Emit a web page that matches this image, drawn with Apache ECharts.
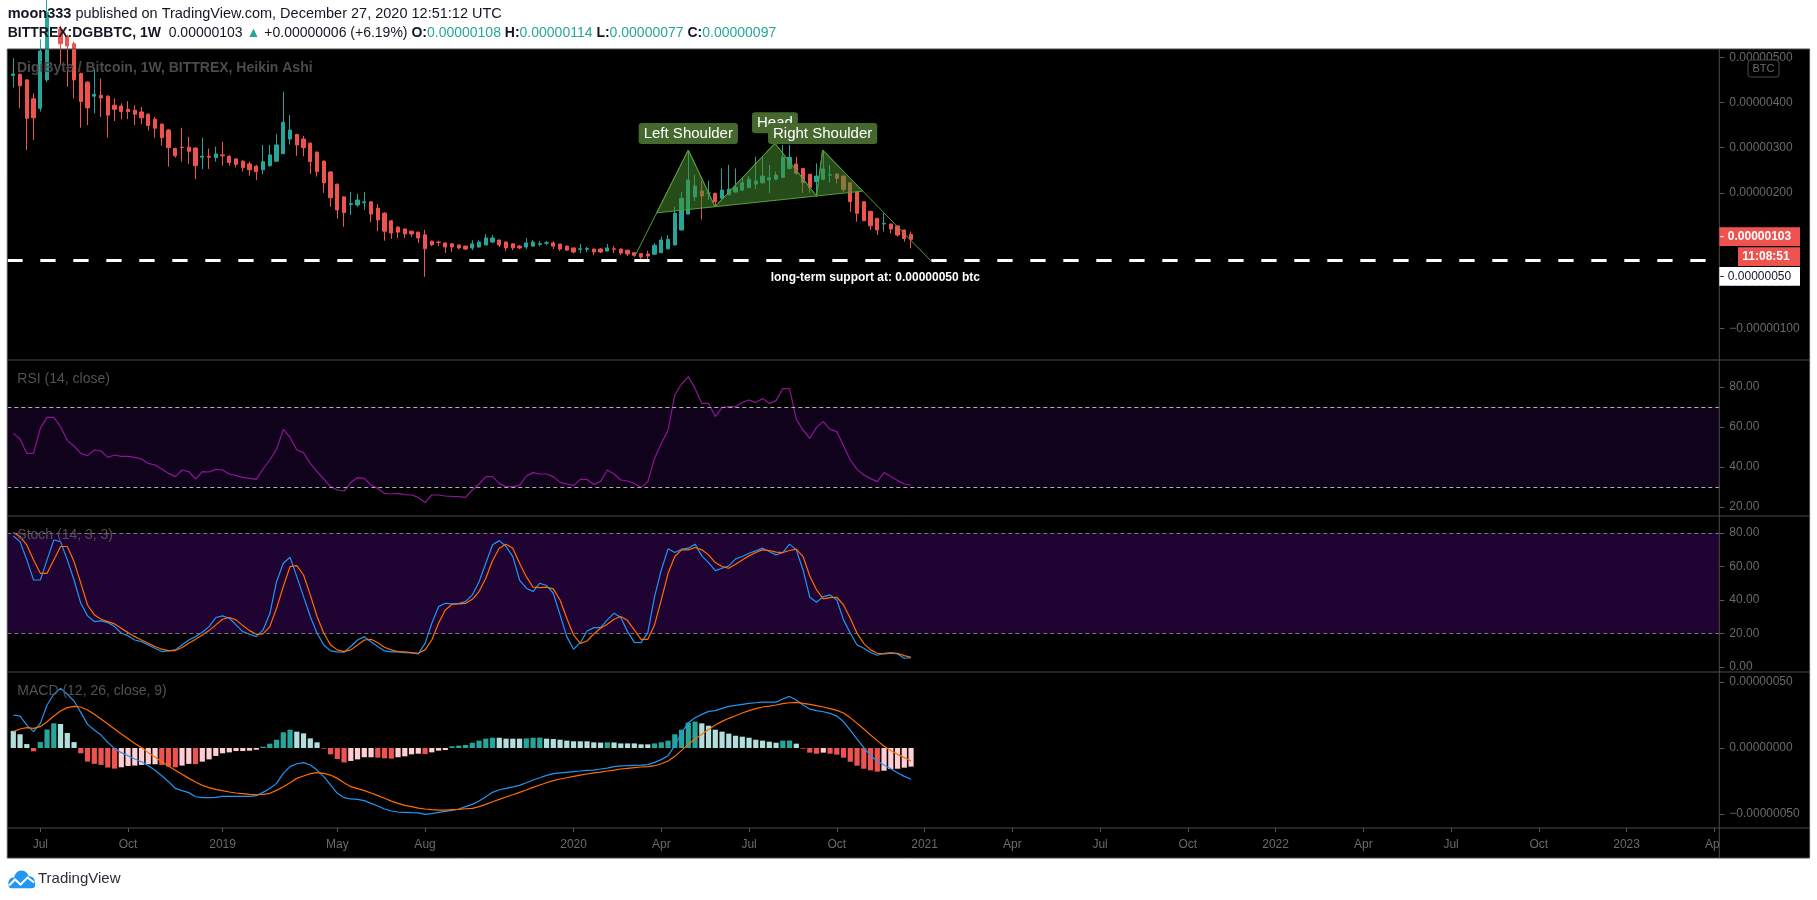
<!DOCTYPE html>
<html><head><meta charset="utf-8">
<script src="https://cdn.jsdelivr.net/npm/echarts@6/dist/echarts.min.js"></script>
<style>html,body{margin:0;padding:0;background:#fff;}#c{width:1817px;height:900px;}</style>
</head><body><div id="c"></div>
<script>
// ---------- DATA (prices in satoshi = 1e-8 BTC) ----------
const startDate = '2018-06-04'; // first weekly bar (Monday)
const haOpen = [460,462,450,408,387,450,525,562,546,530,
464,445,414,416,414,394,392,385,383,379,
374,363,352,339,298,301,301,299,279,281,
278,284,281,275,270,264,259,251,260,270,
287,319,329,319,310,290,270,246,219,191,
174,173,178,180,166,155,138,124,120,115,
113,107,93,91,89,87,84.5,82,78,80,
84.5,91,95.5,91,87,82,80,82,86,88.5,
89,86.7,82,78,75,75,75.6,75.6,71,76,
75.6,73,67.5,65.3,64.5,64,67.5,76,84.5,117.7,
153,191,204,199,199,188,196,202,206,212,
219.5,222.5,228.4,230,234.3,254,264,254,241,225,
230,239,241.7,237,222.5,202.5,180.4,159,143.5,131,
131,126.5,117.7,108];
const haClose = [463,437,365,366,514,600,600,530,525,450,
402,388,418,410,372,385,380,380,374,366,
349,343,322,300,282,300,292,260,281,279,
286,282,267,263,256,251,247,269,284,306,
356,339,306,300,269,247,222,189,162,156,
176,184,180,153,140,115,111,113,109,109,
100,76,85,90,80,80,77.8,75.6,87,91,
100,100,84.5,78,78,78,89,91,87.5,89.5,
82,75.6,73.4,69,76.3,76.5,69,69,78,75,
66.7,64.5,61.6,58,60,83.7,95.5,97,154.6,187.8,
228.4,215,193,199.5,180,206,208,212,222.5,230,
226,237,233.5,239.5,278.6,278.6,243,222.5,212,237,
253,240,232,207.7,180.4,154.6,138.3,127,117.7,132.5,
119.9,106.6,99,97];
const haLow = [433,387,295,317,380,445,520,483,435,409,
344,350,376,368,322,359,363,363,350,352,
338,322,304,258,278,269,264,230,253,253,
269,260,260,256,247,238,228,241,258,268,
285,307,282,281,242,236,200,169,143,125,
151,169,162,135,115,94,98,100,100,102,
89,14,82,82,67,69,75,73,73,79,
84.5,89,80,71,73,75.6,75.6,81,82,84.5,
75.6,71,71,66,66.7,69,62,66.7,71,66.7,
62,60,58.6,52.7,52.7,63,67,75,84,117,
152,182,141,184,169,186,194,200,205,210,
208,220,200,228,233,252,240,200,200,191,
228,222.5,221,202,158,136,138,117.7,106.6,114,
110,103,91.9,77];
const haHigh = [498,465,452,420,540,630,640,570,550,535,
466,447,475,453,416,409,398,403,394,390,
376,368,354,341,300,344,324,301,322,298,
302,313,283,277,272,269,262,306,306,330,
424,372,331,326,312,292,272,248,221,193,
202,198,202,182,175,157,140,126,121,116,
114,118,94,94,90,89,85,83,95,95,
109,107,96,92,88,84.5,100,95.5,93,93,
93,87,83,78.5,86.7,80,76,77.8,86.7,82,
76,74,68,66,72,88,103,106.6,169,202,
291,240,227,227,200,254,262,254,234,237,
280,280,261.6,247,306,306,280,255,242,265,
295,261.6,243,238,223,203,181,160,144,154.6,
132,127,118,114];
const rsi = [56.8,54,46.8,46.8,59.3,64.8,64.8,60.2,53.2,50.5,
46.8,45.7,48.5,48,44.8,46,45.3,45.3,44.8,44,
41.8,41,39,36.8,35.2,38.5,37.7,34,37.7,37.5,
38.8,38.5,36.5,35.7,34.8,34.3,33.8,39,43.5,48.8,
58.8,54.8,48.5,47.2,41.8,37.7,34,30.2,28.5,28,
32.2,34.7,34.3,31,29.3,26.8,26.5,26.8,26.2,26,
24.8,22.2,26,26,25.5,25.3,25.2,24.8,28.5,31.5,
35.2,35.2,31.8,30.2,30.2,30.8,35.5,37.2,36.5,36.5,
35.2,32.3,31.5,30.7,33.8,33.8,31.2,32.8,38.5,36.5,
33.5,33,31.8,29.7,32.7,44.3,51.8,58.5,76,81.5,
85.2,79.3,71.8,71.8,65.2,69.7,70.2,70.2,72.3,73.5,
72.2,74.2,71.8,73.2,79.2,79.2,63.8,58.5,54.3,59.8,
62.7,58.8,57.7,50.5,43.5,38.8,36,34.2,32.7,37.2,
35.2,33.2,31.5,31];
const stochK = [78.2,74.8,63.9,51.9,51.9,63.9,75.8,74.8,63.9,51.9,
38,30.5,27.1,27.5,26.5,24.1,20.1,18.7,16.1,15.1,
13.1,11.2,9.2,9.6,10.2,13.1,16.1,18.1,20.7,24.1,
29.5,30.5,29.1,25.1,21.1,19.5,18.1,22.1,31.7,50.9,
61.9,65.5,53.9,42,30.1,20.1,13.1,9.6,9,8.8,
12.2,16.1,18.1,15.1,12.2,9.6,9,9,8.6,8.4,
7.8,14.1,26.1,36,38,37.6,38,39,43,50.9,
61.9,72.9,75.4,71.9,65.9,51.9,47,45,50,48.6,
44,31.1,18.1,10.6,14.5,21.5,23.5,23.5,28.1,32.1,
29.5,21.1,14.7,14.5,20.5,42,57.9,70.5,68.3,70.3,
70.9,73.3,66.3,62.3,57.5,58.9,60.3,64.5,65.9,67.9,
69.3,70.9,68.9,66.9,68.3,73.3,69.9,57.9,41.6,38.6,
42,43,40,28.1,20.1,13.1,11.2,8.6,7,8.2,
8.6,7.8,5.2,5.6];
const stochD = [80.2,77.8,72.8,63.9,55.9,55.9,63.9,71.9,71.9,62.9,
50,37,31.1,28.5,27.1,25.7,23.1,20.5,18.1,16.1,
14.1,12.2,10.6,9.8,9.8,11.6,14.1,16.5,19.1,21.7,
25.1,28.5,29.5,28.1,24.7,21.7,19.5,19.7,24.1,35,
48,59.9,60.5,54.9,43,30.1,20.1,13.1,10.2,9.2,
10.2,13.1,16.1,16.5,14.5,11.8,10.2,9.2,9,8.6,
8.2,10.2,16.1,26.1,34,37.4,37.6,38,40.4,45,
52.9,63.5,70.9,73.3,70.9,61.9,53.9,47.6,47.4,47.6,
46.6,40,29.1,19.1,14.1,15.5,19.7,23.1,25.5,28.5,
30.1,27.7,22.1,16.5,16.5,25.1,40,55.9,65.9,69.9,
69.9,71.3,69.9,66.9,62.3,59.9,58.9,61.3,63.9,66.3,
68.3,69.9,69.5,68.5,68.3,69.5,70.3,65.9,54.3,46,
40.6,41.4,41.6,37,29.1,20.1,14.1,10.2,8.2,7.8,
8.2,8.2,6.8,5.8];
const macdLine = [25,24.2,17.4,12.4,18.7,32.6,40.7,45.2,40.7,35.6,
27,17.9,13.6,9.8,4.3,-0.3,-3.5,-5.8,-8.3,-10.4,
-13.4,-16.9,-21,-25.5,-30.6,-32.3,-33.8,-36.9,-37.6,-37.6,
-37.4,-36.6,-36.6,-36.6,-36.6,-36.6,-36.1,-33.6,-30.6,-26.8,
-19.2,-14.1,-11.9,-11.1,-12.9,-16.7,-21.7,-28,-34.3,-37.6,
-38.6,-38.9,-39.9,-41.9,-43.9,-46.2,-47.7,-48.5,-48.7,-49,
-49.2,-50.3,-49.7,-48.7,-48,-47.2,-46.2,-44.4,-42.7,-40.2,
-36.9,-33.6,-31.6,-30.6,-29.5,-28.3,-26.3,-24.2,-22.5,-20.7,
-19.4,-18.9,-18.4,-17.9,-17.4,-16.9,-16.7,-15.9,-15.2,-14.1,
-13.6,-13.4,-13.1,-12.9,-12.6,-10.9,-8.8,-5.8,1.8,11.6,
19.2,23,25.5,27.8,28.3,30,31.6,32.3,33.1,33.8,
34.3,34.8,34.8,34.8,37.1,39.1,36.4,32.6,29.5,28.3,
27.5,26.3,24.2,19.9,13.6,6.8,0.3,-5.8,-9.8,-12.9,
-15.7,-18.7,-21.5,-23.7];
const macdSignal = [12.4,14.4,15.4,14.9,16.2,19.9,24.2,28,30.6,31.6,
31.1,28.8,25.5,22,18.2,14.4,10.6,7.1,3.5,0.3,
-3.5,-6.8,-10.4,-13.6,-16.9,-19.9,-23,-25.8,-28.3,-30,
-31.3,-32.3,-33.3,-34.1,-34.6,-35.1,-35.4,-35.1,-34.3,-32.1,
-29.3,-26.3,-23,-21.2,-19.4,-18.7,-19.2,-20.5,-23,-26.3,
-29.3,-30.8,-32.3,-34.1,-36.1,-38.1,-40.2,-41.9,-43.4,-44.4,
-45.5,-46.2,-46.7,-47,-47,-46.7,-46.5,-46,-45.7,-44.4,
-42.7,-40.7,-38.9,-37.1,-35.4,-33.6,-31.8,-29.8,-28,-26.3,
-24.7,-23.5,-22.5,-21.5,-20.5,-19.7,-18.9,-18.2,-17.4,-16.7,
-15.9,-15.4,-14.9,-14.4,-14.1,-13.4,-11.9,-9.8,-6.3,-1.8,
2.8,6.8,10.4,14.1,17.4,20.2,22.5,24.5,26.5,28.3,
29.8,31.1,31.8,32.6,33.6,34.3,34.6,33.8,33.1,32.1,
31.1,29.8,28.5,26.5,23,18.7,14.4,9.8,5.6,1.3,
-1.8,-4.8,-7.3,-9.8];
const macdHist = [13,10.4,3,-2.5,4.5,14,18.7,18.2,11.4,4.5,
-4,-10.3,-12,-12.8,-14.8,-15.6,-14.6,-13.6,-13.3,-12.8,
-12.3,-12.3,-12.8,-14,-14.6,-13.3,-12,-12.2,-10.3,-8.6,
-6,-4,-3.3,-2.3,-2.3,-2,-1.3,1,3.3,6.3,
11.9,13.9,12.4,11.1,7.3,4.3,-0.5,-4.8,-8.3,-10.9,
-9.8,-8.6,-7,-7,-7.3,-7.8,-8,-7,-6.3,-4.8,
-4.3,-4.6,-3.3,-2,-1.5,1.3,1.8,2.3,4,5.6,
7.1,7.8,7.8,7.1,7.1,7.1,7.3,7.8,7.9,7.1,
6.8,6.3,5.6,5.1,5.1,5.1,4.3,4.1,4.3,4.2,
3.5,3.5,3.5,2.8,2.8,3.5,4.3,5.6,10.4,13.9,
19.2,20,18.7,16.9,13.9,12.4,10.9,9.3,8.6,7.8,
6.3,5.6,4.8,4,5.6,5.7,3.3,-0.5,-3.5,-4.3,
-3.5,-4.3,-5,-7.3,-10.4,-13.4,-15.7,-16.9,-17.9,-17.2,
-15.9,-15.7,-14.9,-14.1];
// time-axis ticks
const tickDates = ['2018-07-02','2018-10-01','2019-01-07','2019-05-06','2019-08-05','2020-01-06','2020-04-06','2020-07-06','2020-10-05','2021-01-04','2021-04-05','2021-07-05','2021-10-04','2022-01-03','2022-04-04','2022-07-04','2022-10-03','2023-01-02','2023-04-03'];
const tickLabels = ['Jul','Oct','2019','May','Aug','2020','Apr','Jul','Oct','2021','Apr','Jul','Oct','2022','Apr','Jul','Oct','2023','Apr'];
const priceTicks = [500,400,300,200,100,0,-100];
const rsiTicks = [80,60,40,20];
const stochTicks = [80,60,40,20,0];
const macdTicks = [50,0,-50];
const rsiBands = [30,70];
const stochBands = [20,80];
// Head & Shoulders drawing (bar index, price)
const hsIdx = [92.25,100.0,103.96,112.84,119.0,119.9,136.06];
const hsVal = [64.5,294.8,169.3,309.6,193,294.8,47.6];
const hsLabels = ['Left Shoulder','Head','Right Shoulder'];
const supportLevel = 50;
const supportTextIdx = 112.2;
const supportText = 'long-term support at: 0.00000050 btc';
const lastPrice = 103;
const countdown = '11:08:51';

// ---------- LAYOUT / STYLE ----------
const FONT = "'Liberation Sans', Arial, sans-serif";
const L = 7.3, PR = 1719.3, R = 1809.6, TOP = 49, BOT = 858;
const X0 = 13.3, BAR = 6.75;
const xMin = (L - X0) / BAR, xMax = (PR - X0) / BAR;
const panes = [{top:49,h:311},{top:360,h:156},{top:516,h:156},{top:672,h:156}];
const yRanges = [[-170.1,518.4],[15.5,93.5],[-3.0,90.1],[-60.6,57.6]];
const AX = '#6a6a6a', SEP = '#4a4a4a';
const UP = '#26a69a', DN = '#ef5350';

function weekIdx(d){
  const a = d.split('-').map(Number), b = startDate.split('-').map(Number);
  return Math.round((Date.UTC(a[0],a[1]-1,a[2]) - Date.UTC(b[0],b[1]-1,b[2])) / (7*864e5));
}
const tickIdx = tickDates.map(weekIdx);
const labelByIdx = {}; tickIdx.forEach((t,k)=>{ labelByIdx[t] = tickLabels[k]; });
const fmtBtc = v => (v < 0 ? '\u2212' : '') + (Math.abs(v)/1e8).toFixed(8);
const yFmt = [fmtBtc, v=>v.toFixed(2), v=>v.toFixed(2), fmtBtc];
const yTicks = [priceTicks, rsiTicks, stochTicks, macdTicks];

const histColor = macdHist.map((v,i)=>{
  const p = i > 0 ? macdHist[i-1] : null;
  if (v >= 0) return (p !== null && v > p) ? '#26a69a' : '#b2dfdb';
  return (p !== null && v < p) ? '#ef5350' : '#ffcdd2';
});

const chart = echarts.init(document.getElementById('c'), null, {renderer:'canvas'});
const lineSeries = (name, arr, g, color, extra) => Object.assign({
  name, type:'line', xAxisIndex:g, yAxisIndex:g, symbol:'none', silent:true,
  data: arr.map((v,i)=>[i,v]), lineStyle:{color, width:1.2}, z:4
}, extra||{});

const option = {
  backgroundColor:'#ffffff', animation:false,
  grid: panes.map(p=>({left:L, top:p.top, width:PR-L, height:p.h})),
  xAxis: [0,1,2,3].map(g=>({
    type:'value', gridIndex:g, min:xMin, max:xMax, show: g===3, position:'bottom',
    axisLine:{show:false, onZero:false}, splitLine:{show:false},
    axisTick: g===3 ? {show:true, length:4, lineStyle:{color:'#5a5a5a'}, customValues:tickIdx} : {show:false},
    axisLabel: g===3 ? {show:true, customValues:tickIdx, formatter:v=>labelByIdx[Math.round(v)]||'', color:AX, fontSize:12, fontFamily:FONT, margin:11} : {show:false}
  })),
  yAxis: [0,1,2,3].map(g=>({
    type:'value', gridIndex:g, position:'right', min:yRanges[g][0], max:yRanges[g][1],
    axisLine:{show:false, onZero:false}, splitLine:{show:false},
    axisTick:{show:true, length:5, lineStyle:{color:'#5a5a5a'}, customValues:yTicks[g]},
    axisLabel:{show:true, customValues:yTicks[g], formatter:yFmt[g], color:AX, fontSize:12, fontFamily:FONT, margin:10}
  })),
  series: [
    { type:'candlestick', xAxisIndex:0, yAxisIndex:0, barWidth:3.8, silent:true, z:2,
      data: haOpen.map((o,i)=>[i,o,haClose[i],haLow[i],haHigh[i]]),
      itemStyle:{color:UP, color0:DN, borderColor:UP, borderColor0:DN, borderWidth:1},
      markLine:{silent:true, symbol:['none','none'], label:{show:false},
        lineStyle:{color:'#ffffff', width:3, type:[15.3,17.7]}, data:[{yAxis:supportLevel}]}
    },
    { type:'custom', xAxisIndex:0, yAxisIndex:0, silent:true, z:5, data:[[hsIdx[0], hsVal[0]]],
      renderItem:function(params, api){
        const p = hsIdx.map((ix,k)=>api.coord([ix, hsVal[k]]));
        function inter(a,b,c,d){
          const den=(a[0]-b[0])*(c[1]-d[1])-(a[1]-b[1])*(c[0]-d[0]);
          const t=((a[0]-c[0])*(c[1]-d[1])-(a[1]-c[1])*(c[0]-d[0]))/den;
          return [a[0]+t*(b[0]-a[0]), a[1]+t*(b[1]-a[1])];
        }
        const nl = inter(p[0],p[1],p[2],p[4]);
        const nr = inter(p[5],p[6],p[2],p[4]);
        const fill='rgba(70,140,45,0.55)', stroke='#5a9a3a';
        const tri = pts => ({type:'polygon', shape:{points:pts}, style:{fill, stroke, lineWidth:1}});
        const gaps=[6,10,6], peaks=[1,3,5];
        const labels = hsLabels.map((t,k)=>({type:'text', x:p[peaks[k]][0], y:p[peaks[k]][1]-gaps[k],
          style:{text:t, fill:'#ffffff', font:'15px '+FONT, align:'center', verticalAlign:'bottom',
            backgroundColor:'#45682f', padding:[3,5,3,5], borderRadius:3}}));
        const sp = api.coord([supportTextIdx, supportLevel]);
        return {type:'group', children:[
          tri([nl,p[1],p[2]]), tri([p[2],p[3],p[4]]), tri([p[4],p[5],nr]),
          {type:'polyline', shape:{points:p}, style:{fill:'none', stroke, lineWidth:1}},
          ...labels,
          {type:'text', x:sp[0], y:sp[1]+16.7, style:{text:supportText, fill:'#ffffff', font:'bold 12px '+FONT, align:'left', verticalAlign:'middle'}}
        ]};
      }
    },
    lineSeries('RSI', rsi, 1, '#8e1599', {
      markArea:{silent:true, itemStyle:{color:'rgba(153,21,255,0.1)'}, data:[[{yAxis:rsiBands[0]},{yAxis:rsiBands[1]}]]},
      markLine:{silent:true, symbol:['none','none'], label:{show:false}, lineStyle:{color:'#b0b0b0', width:1, type:[4,3]},
        data:[{yAxis:rsiBands[0]},{yAxis:rsiBands[1]}]}
    }),
    lineSeries('K', stochK, 2, '#2196f3', {
      markArea:{silent:true, itemStyle:{color:'rgba(153,21,255,0.2)'}, data:[[{yAxis:stochBands[0]},{yAxis:stochBands[1]}]]},
      markLine:{silent:true, symbol:['none','none'], label:{show:false}, lineStyle:{color:'#787878', width:1, type:[4,3]},
        data:[{yAxis:stochBands[0]},{yAxis:stochBands[1]}]}
    }),
    lineSeries('D', stochD, 2, '#ff6d00'),
    { type:'bar', xAxisIndex:3, yAxisIndex:3, barWidth:5.2, silent:true, z:2,
      data: macdHist.map((v,i)=>({value:[i,v], itemStyle:{color:histColor[i]}})) },
    lineSeries('MACD', macdLine, 3, '#2196f3'),
    lineSeries('Signal', macdSignal, 3, '#ff6d00')
  ]
};
chart.setOption(option);

// ---------- decorations (frame, texts, axis price tags) ----------
const y103 = chart.convertToPixel({yAxisIndex:0}, lastPrice);
const y50 = chart.convertToPixel({yAxisIndex:0}, supportLevel);
const boxH = 18.7;
const b1Top = y103 - boxH/2, cdTop = b1Top + boxH + 1.2;
const b2Top = Math.max(y50 - boxH/2, cdTop + boxH + 1.2);
const line = (x1,y1,x2,y2,c,z) => ({type:'line', shape:{x1,y1,x2,y2}, style:{stroke:c||SEP, lineWidth:1}, z:z||60, silent:true});
const txt = (x,y,text,font,fill,align,z) => ({type:'text', x, y, z:z||60, silent:true,
  style:{text, font, fill, align:align||'left', verticalAlign:'middle'}});
const circ = (cx,cy,r,c) => ({type:'circle', shape:{cx,cy,r}, style:{fill:c}, z:60, silent:true});
const els = [
  {type:'rect', shape:{x:L, y:TOP, width:R-L, height:BOT-TOP}, style:{fill:'#000000'}, z:-10, silent:true},
  {type:'rect', shape:{x:PR, y:828, width:R-PR, height:BOT-828}, style:{fill:'#000000'}, z:58, silent:true},
  line(L,360,R,360), line(L,516,R,516), line(L,672,R,672), line(L,828,R,828),
  line(PR,TOP,PR,BOT),
  {type:'rect', shape:{x:L, y:TOP, width:R-L, height:BOT-TOP}, style:{fill:'none', stroke:SEP, lineWidth:1}, z:61, silent:true},
  // header
  {type:'text', x:7.7, y:14, z:60, silent:true, style:{
    text:'{b|moon333}{n| published on TradingView.com, December 27, 2020 12:51:12 UTC}', verticalAlign:'middle',
    rich:{b:{font:'bold 14.5px '+FONT, fill:'#131722'}, n:{font:'14.5px '+FONT, fill:'#131722'}}}},
  {type:'text', x:7.7, y:33.3, z:60, silent:true, style:{
    text:'{b|BITTREX:DGBBTC, 1W}{n|  0.00000103 }{t|\u25B2}{n| +0.00000006 (+6.19%) }{b|O:}{t|0.00000108}{b| H:}{t|0.00000114}{b| L:}{t|0.00000077}{b| C:}{t|0.00000097}',
    verticalAlign:'middle',
    rich:{b:{font:'bold 14px '+FONT, fill:'#131722'}, n:{font:'14px '+FONT, fill:'#131722'}, t:{font:'14px '+FONT, fill:'#26a69a'}}}},
  // pane titles
  txt(17,68.3,'DigiByte / Bitcoin, 1W, BITTREX, Heikin Ashi','bold 14px '+FONT,'#4b4b4b'),
  txt(17.3,379.3,'RSI (14, close)','14px '+FONT,'#525252'),
  txt(17.3,535,'Stoch (14, 3, 3)','14px '+FONT,'#525252'),
  txt(17.3,691.3,'MACD (12, 26, close, 9)','14px '+FONT,'#525252'),
  // BTC unit box
  {type:'rect', shape:{x:1748, y:60, width:31, height:17, r:3}, style:{fill:'#000', stroke:'#4a4a4a', lineWidth:1}, z:60, silent:true},
  txt(1763.5,68.7,'BTC','11px '+FONT,'#6a6a6a','center',61),
  // price tags
  {type:'rect', shape:{x:PR, y:b1Top, width:1800-PR, height:boxH}, style:{fill:'#ef5350'}, z:62, silent:true},
  line(PR+1,y103,PR+4.5,y103,'#ffffff',63),
  txt(1759.5,y103+0.5,fmtBtc(lastPrice),'bold 12px '+FONT,'#ffffff','center',63),
  {type:'rect', shape:{x:1738, y:cdTop, width:62, height:boxH}, style:{fill:'#ef5350'}, z:62, silent:true},
  txt(1766,cdTop+boxH/2+0.5,countdown,'bold 12px '+FONT,'#ffffff','center',63),
  {type:'rect', shape:{x:PR, y:b2Top, width:1800-PR, height:boxH}, style:{fill:'#ffffff'}, z:62, silent:true},
  line(PR+1,b2Top+boxH/2,PR+4.5,b2Top+boxH/2,'#131722',63),
  txt(1759.5,b2Top+boxH/2+0.5,fmtBtc(supportLevel),'12px '+FONT,'#131722','center',63),
  // TradingView logo (cloud)
  circ(13.5,882.5,5,'#2196f3'), circ(21.5,877.8,7.3,'#2196f3'), circ(29.5,881.5,5.3,'#2196f3'),
  {type:'rect', shape:{x:8.5, y:882, width:26.5, height:6.3, r:[0,0,3,3]}, style:{fill:'#2196f3'}, z:60, silent:true},
  {type:'polyline', shape:{points:[[9,885.5],[15,879.5],[20.5,884.5],[27.5,877.5],[34,882.5]]}, style:{stroke:'#ffffff', lineWidth:2, fill:'none'}, z:61, silent:true},
  txt(38,879,'TradingView','15px '+FONT,'#2a2e39')
];
chart.setOption({graphic:{elements:els}});
</script></body></html>
